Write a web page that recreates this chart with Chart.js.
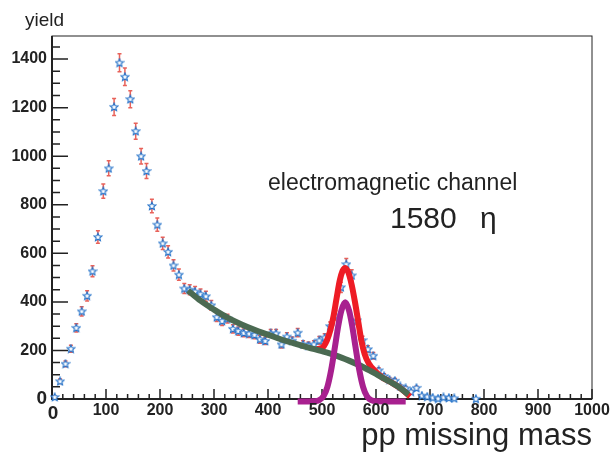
<!DOCTYPE html>
<html>
<head>
<meta charset="utf-8">
<script src="https://cdn.jsdelivr.net/npm/chart.js@4.4.0/dist/chart.umd.min.js"></script>
<style>
  html, body { margin: 0; padding: 0; background: #fff; }
  canvas { display: block; }
</style>
</head>
<body>
<canvas id="chart" width="612" height="453"></canvas>
<script>
// histogram: bin centres, yields and their error bars
const binCenters = [5, 15, 25, 35, 45, 55, 65, 75, 85, 95,
    105, 115, 125, 135, 145, 155, 165, 175, 185, 195,
    205, 215, 225, 235, 245, 255, 265, 275, 285, 295,
    305, 315, 325, 335, 345, 355, 365, 375, 385, 395,
    405, 415, 425, 435, 445, 455, 465, 475, 485, 495,
    505, 515, 525, 535, 545, 555, 565, 575, 585, 595,
    605, 615, 625, 635, 645, 655, 665, 675, 685, 695,
    705, 715, 725, 735, 745, 785]
const yieldValues = [8, 73, 145, 207, 293, 361, 425, 526, 667, 856,
    950, 1203, 1385, 1327, 1235, 1103, 1000, 939, 795, 718,
    641, 606, 550, 512, 455, 450, 442, 432, 423, 386,
    337, 321, 331, 289, 280, 272, 269, 264, 246, 239,
    270, 270, 225, 257, 240, 273, 225, 220, 225, 241,
    253, 300, 344, 460, 555, 509, 324, 242, 205, 178,
    118, 94, 80, 75, 52, 44, 30, 46, 14, 10,
    6, 2, 7, 5, 3, 1]
const yieldErrors = [3, 9, 12, 14, 17, 19, 21, 23, 26, 29,
    31, 35, 37, 36, 35, 33, 32, 31, 28, 27,
    25, 25, 23, 23, 21, 21, 21, 21, 21, 20,
    18, 18, 18, 17, 17, 16, 16, 16, 16, 15,
    16, 16, 15, 16, 15, 17, 15, 15, 15, 16,
    16, 17, 19, 21, 24, 23, 18, 16, 14, 13,
    11, 10, 9, 9, 7, 7, 5, 7, 4, 3,
    2, 1, 3, 2, 2, 1]

// fitted curves
const bgFitX = [252, 275, 300, 325, 350, 375, 400, 425, 450, 475, 500, 525, 550, 575, 600, 625, 645, 660]
const bgFitY = [447, 405, 368, 335, 308, 285, 265, 245, 228, 212, 197, 180, 158, 133, 103, 72, 45, 18]
const totalFitX = [490, 500, 509, 515, 521, 527, 533, 538, 543, 549, 555, 561, 567, 573, 579, 587, 597, 610, 630, 648, 663]
const totalFitY = [206, 210, 241, 280, 337, 415, 489, 527, 540, 520, 470, 400, 320, 240, 185, 145, 118, 91, 66, 40, 10]
const etaFitX = [455, 485, 495, 503, 510, 517, 524, 530, 536, 543, 550, 556, 562, 569, 576, 583, 591, 601, 655]
const etaFitY = [-10, -9, -5, 12, 50, 120, 215, 300, 365, 398, 365, 300, 215, 120, 50, 12, -5, -9, -10]

// axis ticks
const xTickLabels = ["0", "100", "200", "300", "400", "500", "600", "700", "800", "900", "1000"]
const yTickLabels = ["0", "200", "400", "600", "800", "1000", "1200", "1400"]

function makeStar(size) {
    const c = document.createElement("canvas")
    c.width = size
    c.height = size
    const g = c.getContext("2d")
    const cx = size / 2, cy = size / 2 + 0.3
    const R = size / 2 - 0.8, r = R * 0.45
    g.beginPath()
    for (let i = 0; i < 10; i++) {
        const a = -Math.PI / 2 + i * Math.PI / 5
        const rad = i % 2 ? r : R
        g.lineTo(cx + rad * Math.cos(a), cy + rad * Math.sin(a))
    }
    g.closePath()
    g.fillStyle = "#fff"
    g.fill()
    g.strokeStyle = "#1f6fc8"
    g.lineWidth = 1.1
    g.stroke()
    return c
}
const starImg = makeStar(10)

const toPoints = (xs, ys) => xs.map((x, i) => ({ x: x, y: ys[i] }))

// ROOT-like frame, inward ticks, error bars and labels
const frame = {
    id: "frame",
    beforeDatasetsDraw(chart) {
        const { ctx, chartArea: a, scales: { x, y } } = chart
        ctx.save()
        ctx.strokeStyle = "#222"
        ctx.lineWidth = 1
        ctx.strokeRect(a.left, a.top, a.right - a.left, a.bottom - a.top)
        ctx.lineWidth = 2
        ctx.beginPath()
        ctx.moveTo(a.left, a.top)
        ctx.lineTo(a.left, a.bottom)
        ctx.lineTo(a.right, a.bottom)
        ctx.stroke()

        ctx.lineWidth = 1.5
        ctx.beginPath()
        for (let v = 0; v <= 1000; v += 20) {
            const px = x.getPixelForValue(v)
            const len = v % 100 === 0 ? 10 : 5
            ctx.moveTo(px, a.bottom)
            ctx.lineTo(px, a.bottom - len)
        }
        for (let v = 0; v <= 1450; v += 50) {
            const py = y.getPixelForValue(v)
            const len = v % 200 === 0 ? 16 : 8
            ctx.moveTo(a.left, py)
            ctx.lineTo(a.left + len, py)
        }
        ctx.stroke()

        // error bars
        ctx.strokeStyle = "#e8625a"
        ctx.lineWidth = 1.5
        ctx.beginPath()
        binCenters.forEach((m, i) => {
            const px = x.getPixelForValue(m)
            const top = y.getPixelForValue(yieldValues[i] + yieldErrors[i])
            const bot = y.getPixelForValue(yieldValues[i] - yieldErrors[i])
            ctx.moveTo(px, top)
            ctx.lineTo(px, bot)
            ctx.moveTo(px - 2, top)
            ctx.lineTo(px + 2, top)
            ctx.moveTo(px - 2, bot)
            ctx.lineTo(px + 2, bot)
        })
        ctx.stroke()
        ctx.restore()
    },
    afterDraw(chart) {
        const { ctx, chartArea: a, scales: { x, y } } = chart
        ctx.save()
        ctx.fillStyle = "#222"
        ctx.font = "bold 16px 'Liberation Sans', Arial"
        ctx.textAlign = "center"
        ctx.textBaseline = "middle"
        xTickLabels.forEach((t, i) => {
            if (i === 0) return
            ctx.fillText(t, x.getPixelForValue(i * 100), a.bottom + 12)
        })
        ctx.textAlign = "right"
        yTickLabels.forEach((t, i) => {
            if (i === 0) return
            ctx.fillText(t, a.left - 5, y.getPixelForValue(i * 200))
        })
        ctx.font = "bold 19px 'Liberation Sans', Arial"
        ctx.fillText(yTickLabels[0], a.left - 5, y.getPixelForValue(0))
        ctx.textAlign = "center"
        ctx.fillText(xTickLabels[0], x.getPixelForValue(0) + 1, a.bottom + 15)

        ctx.textBaseline = "alphabetic"
        ctx.textAlign = "left"
        ctx.font = "19px 'Liberation Sans', Arial"
        ctx.fillText("yield", 25, 26)
        ctx.font = "23px 'Liberation Sans', Arial"
        ctx.fillText("electromagnetic channel", 268, 190)
        ctx.font = "30px 'Liberation Sans', Arial"
        ctx.fillText("1580", 390, 228)
        ctx.fillText("η", 480, 228)
        ctx.textAlign = "right"
        ctx.font = "31px 'Liberation Sans', Arial"
        ctx.fillText("pp missing mass", a.right, 445)
        ctx.restore()
    }
}

const fitLine = {
    showLine: true,
    pointRadius: 0,
    borderWidth: 6,
    tension: 0.4,
    cubicInterpolationMode: "monotone",
    clip: false
}

new Chart(document.getElementById("chart"), {
    type: "scatter",
    data: {
        datasets: [
            Object.assign({
                label: "eta signal",
                data: toPoints(etaFitX, etaFitY),
                borderColor: "#a8208f",
                order: 1
            }, fitLine),
            Object.assign({
                label: "background",
                data: toPoints(bgFitX, bgFitY),
                borderColor: "#4b6a52",
                order: 2
            }, fitLine),
            Object.assign({
                label: "total fit",
                data: toPoints(totalFitX, totalFitY),
                borderColor: "#ee1c25",
                order: 3
            }, fitLine),
            {
                label: "yield",
                data: toPoints(binCenters, yieldValues),
                pointStyle: starImg,
                showLine: false,
                clip: false,
                order: 4
            }
        ]
    },
    options: {
        responsive: false,
        animation: false,
        layout: {
            padding: { left: 52, right: 20, top: 36, bottom: 54 }
        },
        plugins: {
            legend: { display: false },
            tooltip: { enabled: false }
        },
        scales: {
            x: { type: "linear", min: 0, max: 1000, display: false },
            y: { type: "linear", min: 0, max: 1495, display: false }
        }
    },
    plugins: [frame]
})
</script>
</body>
</html>
